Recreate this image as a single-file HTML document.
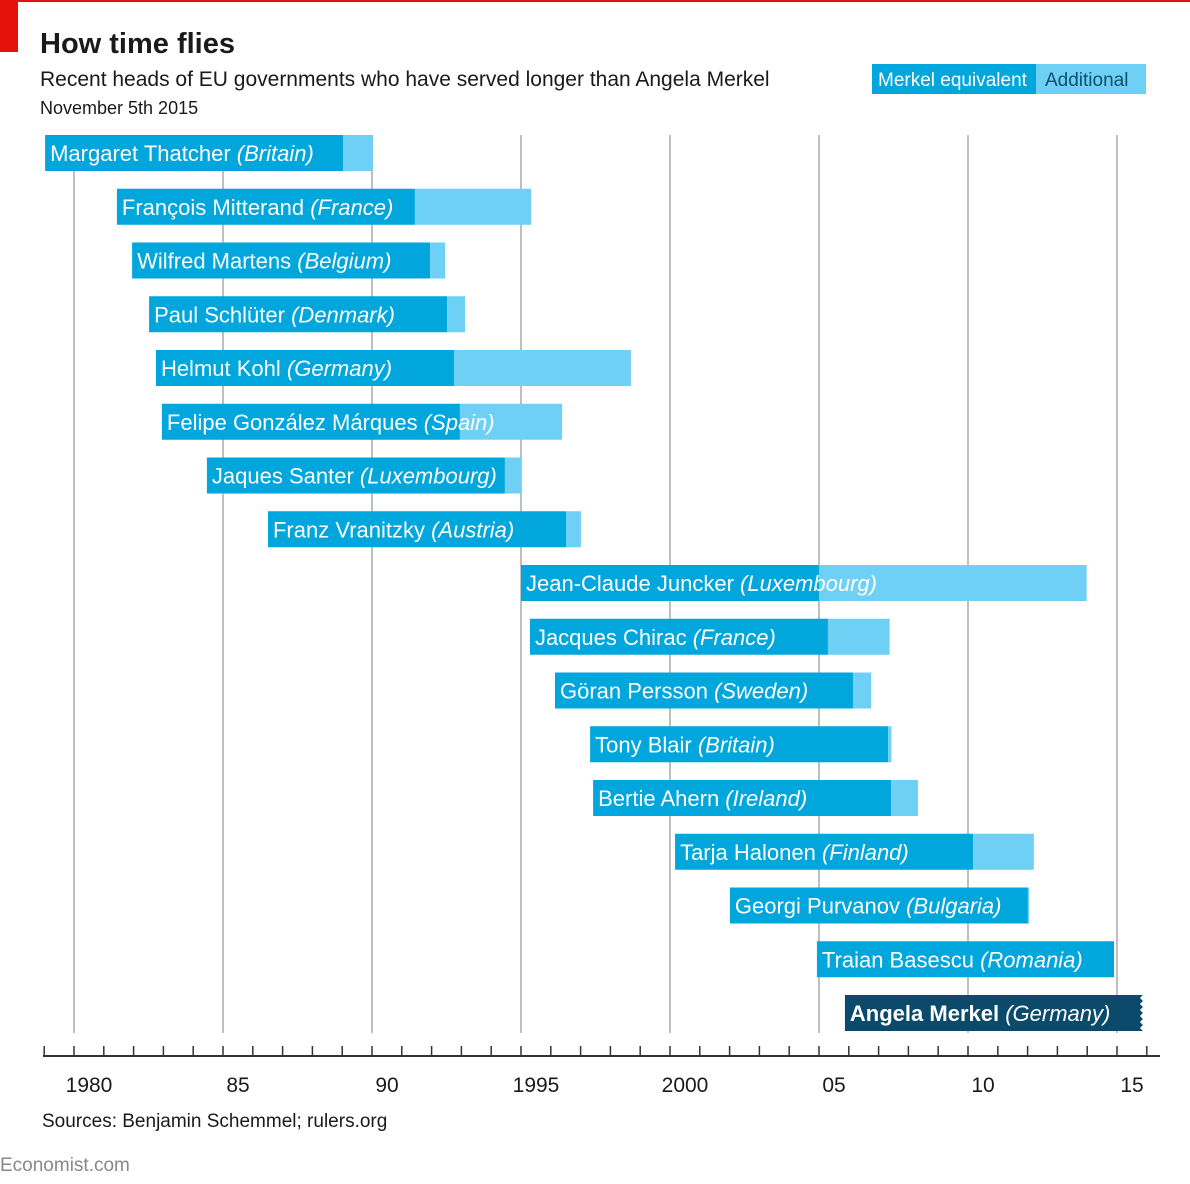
<!DOCTYPE html>
<html><head><meta charset="utf-8"><style>
body{margin:0;background:#fff;font-family:"Liberation Sans",sans-serif}
#c{position:relative;width:1190px;height:1184px;overflow:hidden}
</style></head><body>
<div id="c">
<svg width="1190" height="1184" xmlns="http://www.w3.org/2000/svg" id="svg">
<rect x="0" y="0" width="1190" height="2" fill="#e3120b"/>
<rect x="0" y="0" width="18" height="52" fill="#e3120b"/>
<text x="40" y="53" font-size="29" font-weight="bold" fill="#1a1a1a">How time flies</text>
<text x="40" y="86" font-size="21" fill="#1a1a1a">Recent heads of EU governments who have served longer than Angela Merkel</text>
<text x="40" y="114" font-size="18" fill="#1a1a1a">November 5th 2015</text>
<g>
<rect x="872" y="64" width="164" height="30" fill="#00a6dc"/>
<rect x="1036" y="64" width="110" height="30" fill="#6fd0f6"/>
<text x="878" y="86" font-size="19" fill="#fff">Merkel equivalent</text>
<text x="1045" y="86" font-size="19" fill="#0e4f6e">Additional</text>
</g>
<g id="grid"></g><g id="bars"></g><g id="axis"></g>
<text x="42" y="1127" font-size="19" fill="#1a1a1a">Sources: Benjamin Schemmel; rulers.org</text>
<text x="0" y="1171" font-size="19" fill="#888">Economist.com</text>
</svg>
</div>
<script>
const leaders=["Margaret Thatcher","François Mitterand","Wilfred Martens","Paul Schlüter","Helmut Kohl","Felipe González Márques","Jaques Santer","Franz Vranitzky","Jean-Claude Juncker","Jacques Chirac","Göran Persson","Tony Blair","Bertie Ahern","Tarja Halonen","Georgi Purvanov","Traian Basescu ","Angela Merkel"];
const countries=["Britain","France","Belgium","Denmark","Germany","Spain","Luxembourg","Austria","Luxembourg","France","Sweden","Britain","Ireland","Finland","Bulgaria","Romania","Germany"];
const startYears=[1979.03,1981.44,1981.95,1982.52,1982.75,1982.95,1984.46,1986.51,1995.0,1995.30,1996.14,1997.32,1997.42,2000.17,2002.01,2004.93,2005.87];
const endYears=[1990.03,1995.34,1992.45,1993.12,1998.69,1996.38,1995.0,1997.01,2013.98,2007.37,2006.75,2007.43,2008.32,2012.21,2012.05,2014.9,2015.87];
const merkelTenure=10.0;
const tickLabels=["1980","85","90","1995","2000","05","10","15"];
const tickYears=[1980,1985,1990,1995,2000,2005,2010,2015];
const NS="http://www.w3.org/2000/svg";
const x=y=>74+(y-1980)*29.8;
const rowY=i=>135+i*53.75;
const BH=36;
function mk(t,a,p){const e=document.createElementNS(NS,t);for(const k in a)e.setAttribute(k,a[k]);p.appendChild(e);return e;}
const grid=document.getElementById('grid'),bars=document.getElementById('bars'),axis=document.getElementById('axis');
tickYears.forEach((t,i)=>{const l=mk('line',{x1:x(t),x2:x(t),y1:135,y2:1033,stroke:'#aaa','stroke-width':1.5},grid);

});
const n=leaders.length;
for(let i=0;i<n;i++){
 const s=startYears[i],e=endYears[i],y0=rowY(i);const g=mk('g',{},bars);
 
 
 if(i===n-1){
  const x0=x(s),x1=x(e);let d=`M${x0},${y0}H${x1}`;
  for(let k=0;k<6;k++){d+=`L${x1-3},${y0+3+k*6}L${x1},${y0+6+k*6}`;}
  d+=`H${x0}Z`;
  const p=mk('path',{d:d,fill:'#0b4a6a'},g);
  
  
 } else {
  const m=Math.min(e,s+merkelTenure);
  const a=mk('rect',{x:x(s),y:y0,width:x(m)-x(s),height:BH,fill:'#00a6dc'},g);
  
  
  if(e>m){const b=mk('rect',{x:x(m),y:y0,width:x(e)-x(m),height:BH,fill:'#6fd0f6'},g);
  
  }
 }
 const t=mk('text',{x:x(s)+5,y:y0+26,'font-size':22,fill:'#fff'},g);
 
 
 if(i===n-1)t.setAttribute('font-weight','bold');
 t.textContent=leaders[i]+' ';
 const it=mk('tspan',{'font-style':'italic','font-weight':'normal'},t);it.textContent='('+countries[i]+')';
}
const al=mk('line',{x1:43,x2:1160,y1:1056,y2:1056,stroke:'#333','stroke-width':2},axis);


for(let yr=1979;yr<=2016;yr++){const l=mk('line',{x1:x(yr),x2:x(yr),y1:1046,y2:1056,stroke:'#333','stroke-width':1.5},axis);

}
tickYears.forEach((t,i)=>{const tx=mk('text',{x:x(t)+15,y:1092,'font-size':21,fill:'#1a1a1a','text-anchor':'middle'},axis);


tx.textContent=tickLabels[i];});
</script>
</body></html>
